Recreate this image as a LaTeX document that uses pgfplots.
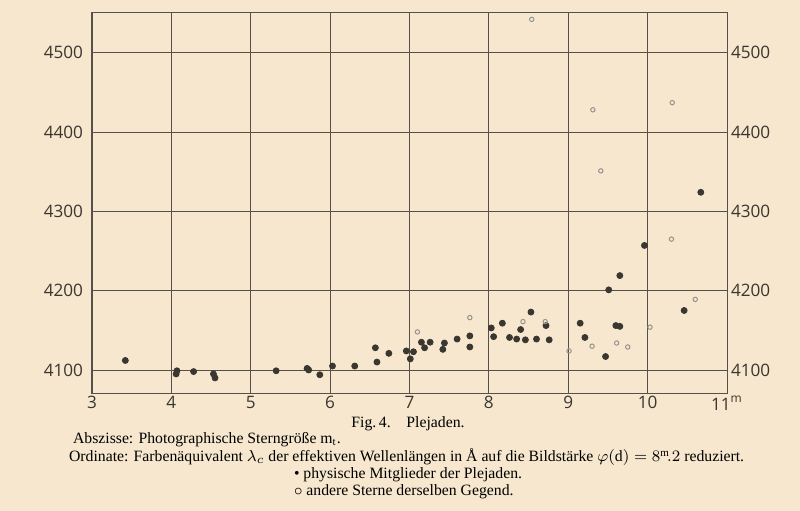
\documentclass[border=0pt]{standalone}
\usepackage{fontspec}
\setmainfont{Liberation Serif}
\newfontfamily\tickfont{Open Sans}
\usepackage{pgfplots}
\pgfplotsset{compat=1.18}
\usetikzlibrary{backgrounds}
\definecolor{paper}{HTML}{F6E7CE}
\definecolor{ink}{HTML}{3A3630}
\definecolor{gridink}{HTML}{55504A}

% physische Mitglieder (filled)
\pgfplotstableread{
x y
3.42 4112
4.07 4099
4.06 4095
4.28 4098
4.53 4095
4.55 4090
5.32 4099
5.71 4102
5.73 4100
5.87 4094
6.03 4105
6.31 4105
6.57 4128
6.59 4110
6.74 4121
6.96 4124
7.01 4114
7.05 4123
7.15 4135
7.19 4128
7.26 4135
7.42 4126
7.44 4134
7.60 4139
7.76 4143
7.76 4129
8.03 4153
8.06 4142
8.17 4159
8.26 4141
8.35 4139
8.40 4151
8.46 4138
8.53 4173
8.60 4139
8.72 4156
8.76 4138
9.15 4159
9.21 4141
9.47 4117
9.51 4201
9.60 4156
9.65 4155
9.65 4219
9.96 4257
10.46 4175
10.67 4324
}\members
% andere Sterne (open)
\pgfplotstableread{
x y
7.10 4148
7.76 4166
8.43 4161
8.71 4161
9.01 4124
9.30 4130
9.61 4134
9.75 4129
10.03 4154
10.60 4189
10.30 4265
9.41 4351
9.31 4428
10.31 4437
8.54 4542
}\others

\pgfplotsset{
  plejaden/.style={
    scale only axis,
    width=317.5bp, height=190bp,
    at={(0,0)}, anchor=south west,
    xmin=3, xmax=11, ymin=4071, ymax=4550,
    ytick={4100,4200,4300,4400,4500},
    major tick length=0pt,
    axis line style={gridink, line width=0.5pt},
    tick label style={font=\tickfont\fontsize{8.6}{10}\selectfont, text=ink},
    /pgf/number format/.cd, 1000 sep={}, assume math mode=true,
  },
}

\begin{document}
\begin{tikzpicture}
\begin{axis}[
  plejaden,
  xtick={3,4,5,6,7,8,9,10,11},
  xticklabels={3,4,5,6,7,8,9,10,11\textsuperscript{m}},
  xticklabel style={yshift=2pt},
  yticklabel style={xshift=-1pt},
  grid=major,
  grid style={gridink, line width=0.45pt},
]
\addplot[only marks, mark=*, mark size=1.5bp, mark options={fill=ink, draw=ink}] table[x=x,y=y] {\members};
\addplot[only marks, mark=o, mark size=1.1bp, mark options={draw=gray!80!paper, line width=0.5pt}] table[x=x,y=y] {\others};
\end{axis}
\begin{axis}[
  plejaden,
  hide x axis,
  axis y line*=right,
  yticklabel pos=right,
  yticklabel style={xshift=-1.5pt},
]
\end{axis}
\node[font=\fontsize{7.9}{9}\selectfont] at (158bp,-15.5bp) {Fig.\,4.\quad Plejaden.};
\node[font=\fontsize{7.9}{9}\selectfont, anchor=west] at (-13bp,-23.5bp) {Abszisse: Photographische Sterngröße m\textsubscript{t}.};
\node[font=\fontsize{7.9}{9}\selectfont, anchor=west] at (-15bp,-32.2bp) {Ordinate: Farbenäquivalent $\lambda_c$ der effektiven Wellenlängen in Å auf die Bildstärke $\varphi(\mathrm{d}) = 8^{\mathrm{m}}\!.2$ reduziert.};
\node[font=\fontsize{7.9}{9}\selectfont, anchor=west] at (97.5bp,-40.7bp) {\textbullet\ physische Mitglieder der Plejaden.};
\node[font=\fontsize{7.9}{9}\selectfont, anchor=west] at (97.5bp,-49.2bp) {$\circ$ andere Sterne derselben Gegend.};
\begin{scope}[on background layer]
\fill[paper] (-46bp,-59bp) rectangle (354bp,196.5bp);
\end{scope}
\pgfresetboundingbox
\useasboundingbox (-46bp,-59bp) rectangle (354bp,196.5bp);
\end{tikzpicture}
\end{document}
